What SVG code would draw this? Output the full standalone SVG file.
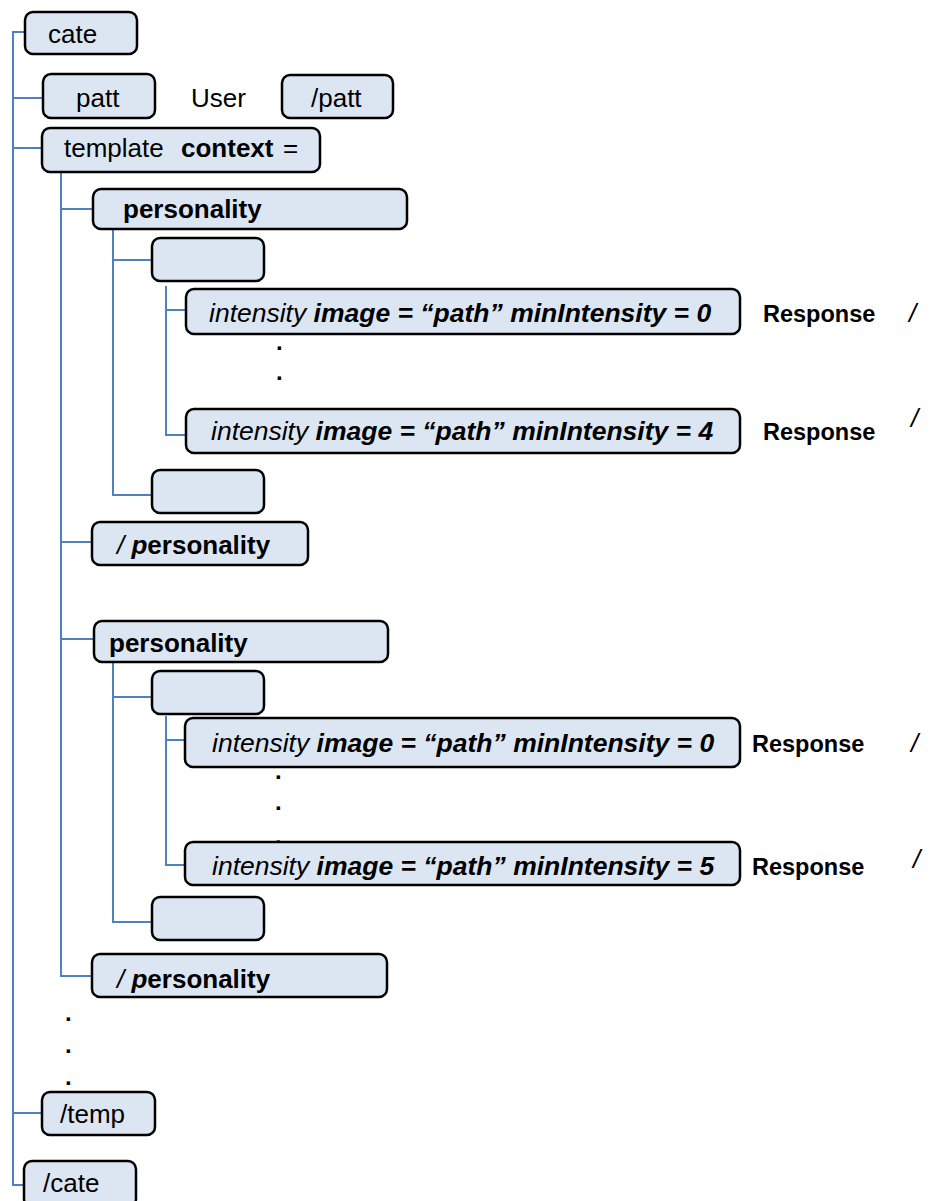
<svg xmlns="http://www.w3.org/2000/svg" width="930" height="1201" viewBox="0 0 930 1201">
<style>
.box{fill:#dce6f2;stroke:#000;stroke-width:2.5}
.ln{fill:none;stroke:#4f81bd;stroke-width:2}
text{font-family:"Liberation Sans",Arial,sans-serif;font-size:26px;fill:#000}
.b{font-weight:bold}
.i{font-style:italic}
.bi{font-weight:bold;font-style:italic}
.int{font-size:26.5px}
.resp{font-weight:bold;font-size:23.5px}
.dot{font-weight:bold;font-size:24px}
</style>
<rect width="930" height="1201" fill="#fff"/>
<g id="connectors">
<path class="ln" d="M24,32H13V1185H24M13,98H43M13,148H42M13,1113H42"/>
<path class="ln" d="M61,172V976H92M61,209H93M61,542H92M61,639H94"/>
<path class="ln" d="M113,230V495H152M113,260H152"/>
<path class="ln" d="M166,286V435H186M166,310H186"/>
<path class="ln" d="M113,662V922H152M113,697H152"/>
<path class="ln" d="M166,716V865H185M166,740H185"/>
</g>
<g id="dots">
<text class="dot" x="276" y="350">.</text>
<text class="dot" x="276" y="380">.</text>
<text class="dot" x="276" y="412">.</text>
<text class="dot" x="275" y="779">.</text>
<text class="dot" x="275" y="810">.</text>
<text class="dot" x="275" y="844">.</text>
<text class="dot" x="65" y="1021">.</text>
<text class="dot" x="65" y="1053">.</text>
<text class="dot" x="65" y="1085">.</text>
</g>
<g id="cate"><rect class="box" x="25" y="12" width="112" height="42" rx="8"/><text x="48" y="43">cate</text></g>
<g id="patt"><rect class="box" x="43" y="74" width="112" height="44" rx="8"/><text x="76" y="107">patt</text></g>
<g id="user"><text x="191" y="107">User</text></g>
<g id="patt-close"><rect class="box" x="282" y="75" width="111" height="43" rx="8"/><text x="311" y="107">/patt</text></g>
<g id="template"><rect class="box" x="42" y="128" width="278" height="44" rx="8"/><text x="64" y="157">template<tspan class="b" x="181">context</tspan><tspan x="283">=</tspan></text></g>
<g id="personality1"><rect class="box" x="93" y="189" width="314" height="40" rx="8"/><text class="b" x="123" y="218">personality</text></g>
<g id="empty1"><rect class="box" x="152" y="238" width="112" height="43" rx="8"/></g>
<g id="intensity1"><rect class="box" x="186" y="289" width="554" height="45" rx="8"/><text class="int" x="209" y="322"><tspan class="i">intensity </tspan><tspan class="bi">image = “path” minIntensity = 0</tspan></text></g>
<g id="response1"><text class="resp" x="763" y="322">Response</text><text class="i" x="909" y="322" font-size="24">/</text></g>
<g id="intensity2"><rect class="box" x="186" y="409" width="554" height="44" rx="8"/><text class="int" x="211" y="440"><tspan class="i">intensity </tspan><tspan class="bi">image = “path” minIntensity = 4</tspan></text></g>
<g id="response2"><text class="resp" x="763" y="440">Response</text><text class="i" x="911" y="427" font-size="20">/</text></g>
<g id="empty2"><rect class="box" x="152" y="470" width="112" height="43" rx="8"/></g>
<g id="personality1-close"><rect class="box" x="92" y="522" width="216" height="43" rx="8"/><text x="117" y="554"><tspan class="i">/ </tspan><tspan class="bi">p</tspan><tspan class="b">ersonality</tspan></text></g>
<g id="personality2"><rect class="box" x="94" y="621" width="294" height="41" rx="8"/><text class="b" x="109" y="652">personality</text></g>
<g id="empty3"><rect class="box" x="152" y="671" width="112" height="43" rx="8"/></g>
<g id="intensity3"><rect class="box" x="185" y="718" width="555" height="49" rx="8"/><text class="int" x="212" y="752"><tspan class="i">intensity </tspan><tspan class="bi">image = “path” minIntensity = 0</tspan></text></g>
<g id="response3"><text class="resp" x="752" y="752">Response</text><text class="i" x="911" y="752" font-size="24">/</text></g>
<g id="intensity4"><rect class="box" x="185" y="842" width="555" height="43" rx="8"/><text class="int" x="212" y="875"><tspan class="i">intensity </tspan><tspan class="bi">image = “path” minIntensity = 5</tspan></text></g>
<g id="response4"><text class="resp" x="752" y="875">Response</text><text class="i" x="913" y="868" font-size="20">/</text></g>
<g id="empty4"><rect class="box" x="152" y="897" width="112" height="43" rx="8"/></g>
<g id="personality2-close"><rect class="box" x="92" y="954" width="295" height="43" rx="8"/><text x="117" y="988"><tspan class="i">/ </tspan><tspan class="bi">p</tspan><tspan class="b">ersonality</tspan></text></g>
<g id="temp-close"><rect class="box" x="42" y="1092" width="113" height="43" rx="8"/><text x="60" y="1123">/temp</text></g>
<g id="cate-close"><rect class="box" x="24" y="1161" width="112" height="46" rx="8"/><text x="43" y="1192">/cate</text></g>
</svg>
